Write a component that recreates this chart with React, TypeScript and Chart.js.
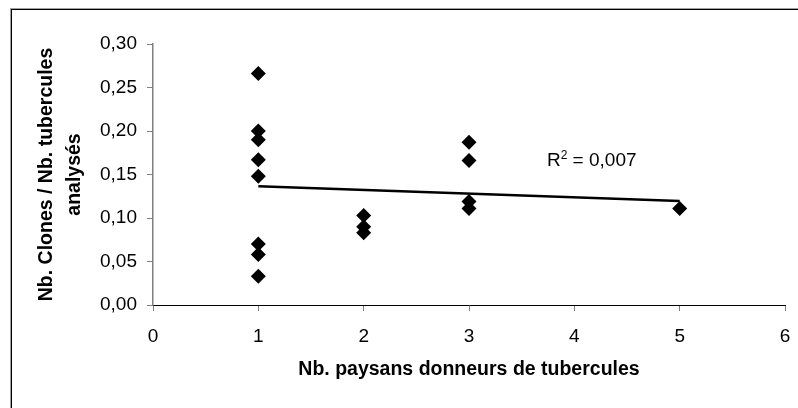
import React, { useEffect, useRef } from "react";
import { Chart, registerables } from "chart.js";

Chart.register(...registerables);

// ---- data ----
const donorCounts = [1, 1, 1, 1, 1, 1, 1, 1, 2, 2, 2, 3, 3, 3, 3, 5];
const cloneRatios = [
  0.266, 0.2, 0.19, 0.167, 0.148, 0.07, 0.058, 0.033,
  0.103, 0.09, 0.083,
  0.187, 0.166, 0.119, 0.111,
  0.111,
];
const trendX = [1, 5];
const trendY = [0.1365, 0.1195];
const xTickValues = [0, 1, 2, 3, 4, 5, 6];
const yTickValues = [0, 0.05, 0.1, 0.15, 0.2, 0.25, 0.3];
const r2Value = "0,007";
const xTitle = "Nb. paysans donneurs de tubercules";
const yTitle = ["Nb. Clones / Nb. tubercules", "analysés"];

const FONT = "'Liberation Sans', Arial, Helvetica, sans-serif";

const r2Plugin = {
  id: "r2label",
  afterDatasetsDraw(chart: any) {
    const { ctx, scales } = chart;
    const x = scales.x.getPixelForValue(3.74);
    const y = scales.y.getPixelForValue(0.16);
    ctx.save();
    ctx.fillStyle = "#000";
    ctx.textBaseline = "alphabetic";
    ctx.textAlign = "left";
    ctx.font = `19px ${FONT}`;
    ctx.fillText("R", x, y);
    let cx = x + ctx.measureText("R").width;
    ctx.font = `12px ${FONT}`;
    ctx.fillText("2", cx, y - 7);
    cx += ctx.measureText("2").width;
    ctx.font = `19px ${FONT}`;
    ctx.fillText(" = " + r2Value, cx, y);
    ctx.restore();
  },
};

export default function App() {
  const ref = useRef<HTMLCanvasElement>(null);

  useEffect(() => {
    if (!ref.current) return;
    const points = donorCounts.map((x, i) => ({ x, y: cloneRatios[i] }));
    const trend = trendX.map((x, i) => ({ x, y: trendY[i] }));
    const chart = new Chart(ref.current, {
      type: "scatter",
      data: {
        datasets: [
          {
            data: points,
            pointStyle: "rectRot",
            pointRadius: 7.5,
            pointHoverRadius: 7.5,
            backgroundColor: "#000",
            borderColor: "#000",
            borderWidth: 0,
          },
          {
            type: "line",
            data: trend,
            borderColor: "#000",
            borderWidth: 2.5,
            pointRadius: 0,
            fill: false,
          } as any,
        ],
      },
      options: {
        responsive: false,
        animation: false,
        events: [],
        layout: { padding: { left: 0, top: 44, right: 13, bottom: 0 } },
        plugins: { legend: { display: false }, tooltip: { enabled: false } },
        scales: {
          x: {
            type: "linear",
            min: 0,
            max: 6,
            afterBuildTicks: (s: any) => {
              s.ticks = xTickValues.map((v) => ({ value: v }));
            },
            afterFit: (s: any) => {
              s.height = 103;
              s.paddingLeft = 0;
              s.paddingRight = 0;
            },
            grid: {
              drawOnChartArea: false,
              color: "#808080",
              tickLength: 6,
              lineWidth: 1,
            },
            border: { color: "#000", width: 1 },
            ticks: {
              color: "#000",
              padding: 14,
              font: { family: FONT, size: 19 },
              callback: (v: any) => String(v),
            },
            title: {
              display: true,
              text: xTitle,
              color: "#000",
              font: { family: FONT, size: 19.5, weight: "bold" },
              padding: { top: 0, bottom: 27 },
            },
          },
          y: {
            type: "linear",
            min: 0,
            max: 0.3,
            afterBuildTicks: (s: any) => {
              s.ticks = yTickValues.map((v) => ({ value: v }));
            },
            afterFit: (s: any) => {
              s.width = 153;
            },
            grid: {
              drawOnChartArea: false,
              color: "#808080",
              tickLength: 6,
              lineWidth: 1,
            },
            border: { color: "#808080", width: 1.5 },
            ticks: {
              color: "#000",
              padding: 10,
              font: { family: FONT, size: 19 },
              callback: (v: any) => Number(v).toFixed(2).replace(".", ","),
            },
            title: {
              display: true,
              text: yTitle,
              color: "#000",
              font: { family: FONT, size: 19.5, weight: "bold", lineHeight: "28px" as any },
              padding: { top: 33, bottom: 0 },
            },
          },
        },
      },
      plugins: [r2Plugin],
    });
    return () => chart.destroy();
  }, []);

  return (
    <div
      style={{
        position: "absolute",
        left: 0,
        top: 0,
        width: 798,
        height: 408,
        overflow: "hidden",
        background: "#fff",
      }}
    >
      <div
        style={{
          position: "absolute",
          left: 10,
          top: 8,
          width: 1000,
          height: 1000,
          borderTop: "1px solid #a0a0a0",
          borderLeft: "1px solid #a0a0a0",
        }}
      />
      <div
        style={{
          position: "absolute",
          left: 11,
          top: 9,
          width: 1000,
          height: 1000,
          borderTop: "1px solid #000",
          borderLeft: "1px solid #000",
        }}
      />
      <canvas
        ref={ref}
        width={798}
        height={408}
        style={{ position: "absolute", left: 0, top: 0, width: 798, height: 408 }}
      />
    </div>
  );
}
